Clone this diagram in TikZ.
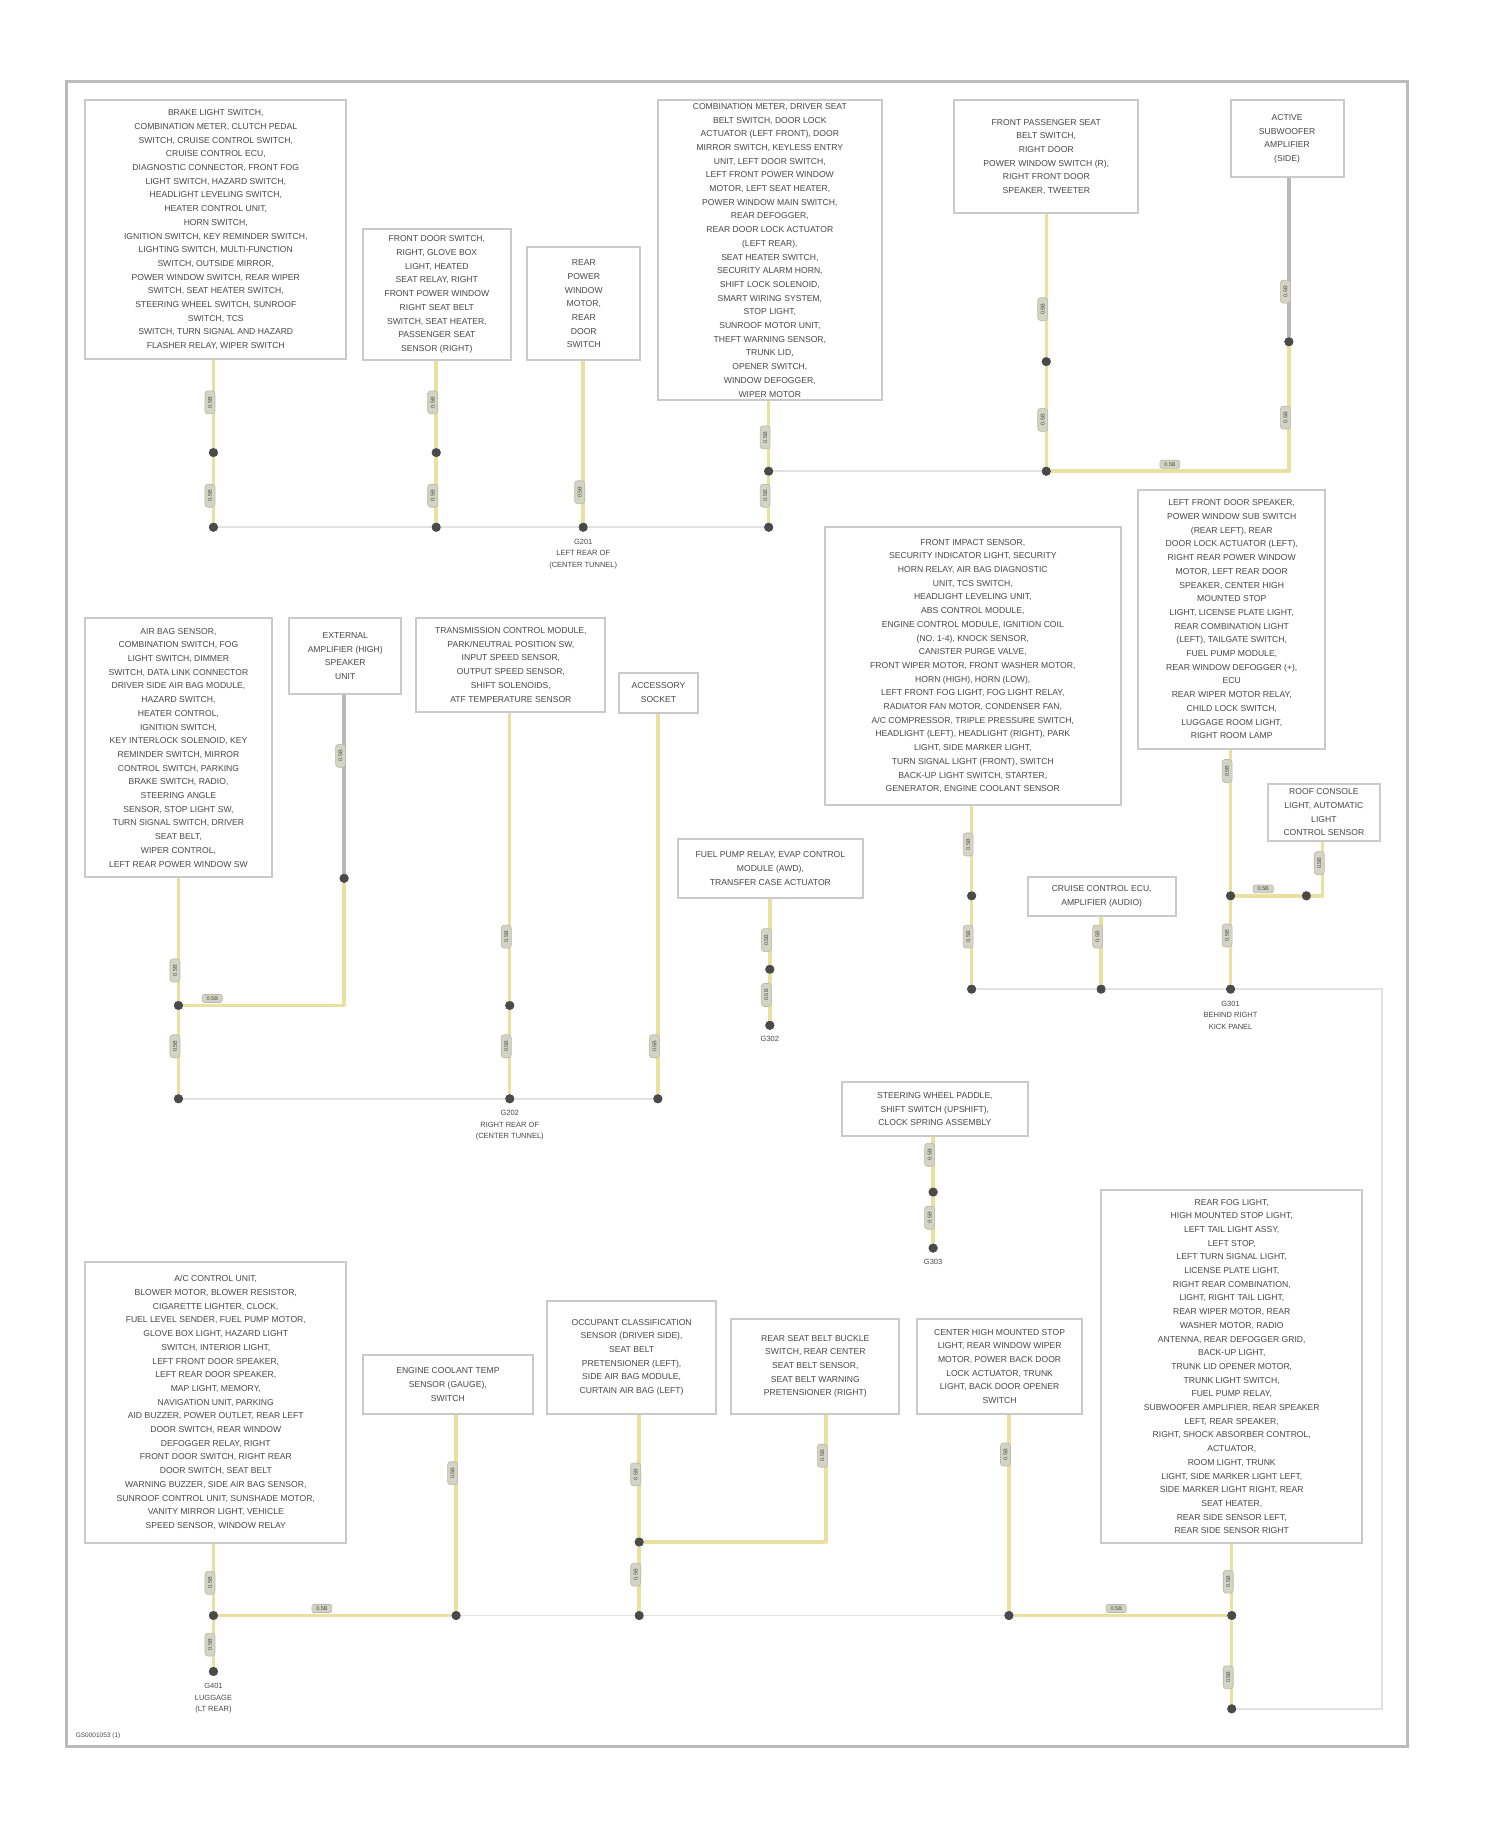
\documentclass[tikz,border=0pt]{standalone}
\usepackage{fontspec}
\setmainfont{Liberation Sans}
\definecolor{wireY}{HTML}{E8E1A0}
\definecolor{wireG}{HTML}{B8B8B8}
\definecolor{busc}{HTML}{E2E2E2}
\definecolor{boxc}{HTML}{CACACA}
\definecolor{txt}{HTML}{484848}
\definecolor{framec}{HTML}{BBBBBB}
\definecolor{chipf}{HTML}{D4D4C4}
\definecolor{chipd}{HTML}{B8B8A8}
\definecolor{dotc}{HTML}{4A4A4A}
\tikzset{
  comp/.style={draw=boxc, line width=2pt, fill=white, inner sep=0pt, align=center, text=txt,
    font=\fontsize{8.6}{13.7}\selectfont},
  bx/.style n args={2}{minimum width=#1*1.1664pt, minimum height=#2*1.1664pt},
  wire/.style={draw=wireY, line width=3.5pt, line join=round},
  gwire/.style={draw=wireG, line width=3.5pt},
  busline/.style={draw=busc, line width=1.6pt},
  spl/.style={circle, fill=dotc, minimum size=9pt, inner sep=0pt},
  wl/.style={rotate=90, fill=chipf, draw=chipd, line width=0.6pt, rounded corners=3pt,
    minimum width=23pt, minimum height=10pt, inner sep=0.5pt, text=txt, font=\fontsize{5.5}{5.5}\selectfont},
  hl/.style={fill=chipf, draw=chipd, line width=0.6pt, rounded corners=2pt,
    minimum width=20pt, minimum height=8pt, inner sep=0.5pt, text=txt, font=\fontsize{5.5}{5.5}\selectfont},
  gtxt/.style={align=center, text=txt, inner sep=0pt, anchor=north, font=\fontsize{7.5}{11.5}\selectfont},
}
\begin{document}
\begin{tikzpicture}[x=1.1664pt, y=-1.1664pt]
\useasboundingbox (0,0) rectangle (1286,1567.2);
\draw[draw=framec, line width=3.2pt] (57,70) rectangle (1207,1497);
\node[text=txt, font=\fontsize{6.5}{7}\selectfont, anchor=west] (ref) at (62,1488) {GS0001053 (1)};

% ---------- row 1 boxes ----------
\node[comp, bx={224}{222}] (B1) at (185,197) {BRAKE LIGHT SWITCH,\\COMBINATION METER, CLUTCH PEDAL\\SWITCH, CRUISE CONTROL SWITCH,\\CRUISE CONTROL ECU,\\DIAGNOSTIC CONNECTOR, FRONT FOG\\LIGHT SWITCH, HAZARD SWITCH,\\HEADLIGHT LEVELING SWITCH,\\HEATER CONTROL UNIT,\\HORN SWITCH,\\IGNITION SWITCH, KEY REMINDER SWITCH,\\LIGHTING SWITCH, MULTI-FUNCTION\\SWITCH, OUTSIDE MIRROR,\\POWER WINDOW SWITCH, REAR WIPER\\SWITCH, SEAT HEATER SWITCH,\\STEERING WHEEL SWITCH, SUNROOF\\SWITCH, TCS\\SWITCH, TURN SIGNAL AND HAZARD\\FLASHER RELAY, WIPER SWITCH};
\node[comp, bx={127}{113}] (B2) at (374.5,252.5) {FRONT DOOR SWITCH,\\RIGHT, GLOVE BOX\\LIGHT, HEATED\\SEAT RELAY, RIGHT\\FRONT POWER WINDOW\\RIGHT SEAT BELT\\SWITCH, SEAT HEATER,\\PASSENGER SEAT\\SENSOR (RIGHT)};
\node[comp, bx={97}{97}] (B3) at (500.5,260.5) {REAR\\POWER\\WINDOW\\MOTOR,\\REAR\\DOOR\\SWITCH};
\node[comp, bx={192}{257}] (B4) at (660,214.5) {COMBINATION METER, DRIVER SEAT\\BELT SWITCH, DOOR LOCK\\ACTUATOR (LEFT FRONT), DOOR\\MIRROR SWITCH, KEYLESS ENTRY\\UNIT, LEFT DOOR SWITCH,\\LEFT FRONT POWER WINDOW\\MOTOR, LEFT SEAT HEATER,\\POWER WINDOW MAIN SWITCH,\\REAR DEFOGGER,\\REAR DOOR LOCK ACTUATOR\\(LEFT REAR),\\SEAT HEATER SWITCH,\\SECURITY ALARM HORN,\\SHIFT LOCK SOLENOID,\\SMART WIRING SYSTEM,\\STOP LIGHT,\\SUNROOF MOTOR UNIT,\\THEFT WARNING SENSOR,\\TRUNK LID,\\OPENER SWITCH,\\WINDOW DEFOGGER,\\WIPER MOTOR};
\node[comp, bx={158}{97}] (B5) at (897,134.5) {FRONT PASSENGER SEAT\\BELT SWITCH,\\RIGHT DOOR\\POWER WINDOW SWITCH (R),\\RIGHT FRONT DOOR\\SPEAKER, TWEETER};
\node[comp, bx={97}{66}] (B6) at (1103.5,119) {ACTIVE\\SUBWOOFER\\AMPLIFIER\\(SIDE)};

% ---------- row 2 boxes ----------
\node[comp, bx={254}{238}] (C1) at (834,571) {FRONT IMPACT SENSOR,\\SECURITY INDICATOR LIGHT, SECURITY\\HORN RELAY, AIR BAG DIAGNOSTIC\\UNIT, TCS SWITCH,\\HEADLIGHT LEVELING UNIT,\\ABS CONTROL MODULE,\\ENGINE CONTROL MODULE, IGNITION COIL\\(NO. 1-4), KNOCK SENSOR,\\CANISTER PURGE VALVE,\\FRONT WIPER MOTOR, FRONT WASHER MOTOR,\\HORN (HIGH), HORN (LOW),\\LEFT FRONT FOG LIGHT, FOG LIGHT RELAY,\\RADIATOR FAN MOTOR, CONDENSER FAN,\\A/C COMPRESSOR, TRIPLE PRESSURE SWITCH,\\HEADLIGHT (LEFT), HEADLIGHT (RIGHT), PARK\\LIGHT, SIDE MARKER LIGHT,\\TURN SIGNAL LIGHT (FRONT), SWITCH\\BACK-UP LIGHT SWITCH, STARTER,\\GENERATOR, ENGINE COOLANT SENSOR};
\node[comp, bx={160}{222}] (C2) at (1056,531) {LEFT FRONT DOOR SPEAKER,\\POWER WINDOW SUB SWITCH\\(REAR LEFT), REAR\\DOOR LOCK ACTUATOR (LEFT),\\RIGHT REAR POWER WINDOW\\MOTOR, LEFT REAR DOOR\\SPEAKER, CENTER HIGH\\MOUNTED STOP\\LIGHT, LICENSE PLATE LIGHT,\\REAR COMBINATION LIGHT\\(LEFT), TAILGATE SWITCH,\\FUEL PUMP MODULE,\\REAR WINDOW DEFOGGER (+),\\ECU\\REAR WIPER MOTOR RELAY,\\CHILD LOCK SWITCH,\\LUGGAGE ROOM LIGHT,\\RIGHT ROOM LAMP};
\node[comp, bx={96}{49}] (C3) at (1135,696.5) {ROOF CONSOLE\\LIGHT, AUTOMATIC\\LIGHT\\CONTROL SENSOR};
\node[comp, bx={127}{33}] (C4) at (944.5,768.5) {CRUISE CONTROL ECU,\\AMPLIFIER (AUDIO)};
\node[comp, bx={159}{51}] (C5) at (660.5,744.5) {FUEL PUMP RELAY, EVAP CONTROL\\MODULE (AWD),\\TRANSFER CASE ACTUATOR};
\node[comp, bx={160}{222}] (D1) at (153,641) {AIR BAG SENSOR,\\COMBINATION SWITCH, FOG\\LIGHT SWITCH, DIMMER\\SWITCH, DATA LINK CONNECTOR\\DRIVER SIDE AIR BAG MODULE,\\HAZARD SWITCH,\\HEATER CONTROL,\\IGNITION SWITCH,\\KEY INTERLOCK SOLENOID, KEY\\REMINDER SWITCH, MIRROR\\CONTROL SWITCH, PARKING\\BRAKE SWITCH, RADIO,\\STEERING ANGLE\\SENSOR, STOP LIGHT SW,\\TURN SIGNAL SWITCH, DRIVER\\SEAT BELT,\\WIPER CONTROL,\\LEFT REAR POWER WINDOW SW};
\node[comp, bx={96}{65}] (D2) at (296,562.5) {EXTERNAL\\AMPLIFIER (HIGH)\\SPEAKER\\UNIT};
\node[comp, bx={162}{80}] (D3) at (438,570) {TRANSMISSION CONTROL MODULE,\\PARK/NEUTRAL POSITION SW,\\INPUT SPEED SENSOR,\\OUTPUT SPEED SENSOR,\\SHIFT SOLENOIDS,\\ATF TEMPERATURE SENSOR};
\node[comp, bx={67}{34}] (D4) at (564.5,594) {ACCESSORY\\SOCKET};

% ---------- row 3 boxes ----------
\node[comp, bx={159}{46}] (E1) at (801.5,951) {STEERING WHEEL PADDLE,\\SHIFT SWITCH (UPSHIFT),\\CLOCK SPRING ASSEMBLY};
\node[comp, bx={224}{241}] (F1) at (185,1202.5) {A/C CONTROL UNIT,\\BLOWER MOTOR, BLOWER RESISTOR,\\CIGARETTE LIGHTER, CLOCK,\\FUEL LEVEL SENDER, FUEL PUMP MOTOR,\\GLOVE BOX LIGHT, HAZARD LIGHT\\SWITCH, INTERIOR LIGHT,\\LEFT FRONT DOOR SPEAKER,\\LEFT REAR DOOR SPEAKER,\\MAP LIGHT, MEMORY,\\NAVIGATION UNIT, PARKING\\AID BUZZER, POWER OUTLET, REAR LEFT\\DOOR SWITCH, REAR WINDOW\\DEFOGGER RELAY, RIGHT\\FRONT DOOR SWITCH, RIGHT REAR\\DOOR SWITCH, SEAT BELT\\WARNING BUZZER, SIDE AIR BAG SENSOR,\\SUNROOF CONTROL UNIT, SUNSHADE MOTOR,\\VANITY MIRROR LIGHT, VEHICLE\\SPEED SENSOR, WINDOW RELAY};
\node[comp, bx={146}{50}] (F2) at (384,1187) {ENGINE COOLANT TEMP\\SENSOR (GAUGE),\\SWITCH};
\node[comp, bx={145}{97}] (F3) at (541.5,1163.5) {OCCUPANT CLASSIFICATION\\SENSOR (DRIVER SIDE),\\SEAT BELT\\PRETENSIONER (LEFT),\\SIDE AIR BAG MODULE,\\CURTAIN AIR BAG (LEFT)};
\node[comp, bx={144}{81}] (F4) at (699,1171.5) {REAR SEAT BELT BUCKLE\\SWITCH, REAR CENTER\\SEAT BELT SENSOR,\\SEAT BELT WARNING\\PRETENSIONER (RIGHT)};
\node[comp, bx={142}{81}] (F5) at (857,1171.5) {CENTER HIGH MOUNTED STOP\\LIGHT, REAR WINDOW WIPER\\MOTOR, POWER BACK DOOR\\LOCK ACTUATOR, TRUNK\\LIGHT, BACK DOOR OPENER\\SWITCH};
\node[comp, bx={224}{303}] (F6) at (1056,1171.5) {REAR FOG LIGHT,\\HIGH MOUNTED STOP LIGHT,\\LEFT TAIL LIGHT ASSY,\\LEFT STOP,\\LEFT TURN SIGNAL LIGHT,\\LICENSE PLATE LIGHT,\\RIGHT REAR COMBINATION,\\LIGHT, RIGHT TAIL LIGHT,\\REAR WIPER MOTOR, REAR\\WASHER MOTOR, RADIO\\ANTENNA, REAR DEFOGGER GRID,\\BACK-UP LIGHT,\\TRUNK LID OPENER MOTOR,\\TRUNK LIGHT SWITCH,\\FUEL PUMP RELAY,\\SUBWOOFER AMPLIFIER, REAR SPEAKER\\LEFT, REAR SPEAKER,\\RIGHT, SHOCK ABSORBER CONTROL,\\ACTUATOR,\\ROOM LIGHT, TRUNK\\LIGHT, SIDE MARKER LIGHT LEFT,\\SIDE MARKER LIGHT RIGHT, REAR\\SEAT HEATER,\\REAR SIDE SENSOR LEFT,\\REAR SIDE SENSOR RIGHT};

% ---------- splices and grounds ----------
\node[spl] (d1a) at (183,388) {};  \node[spl] (g1) at (183,452) {};
\node[spl] (d2a) at (374,388) {};  \node[spl] (g2) at (374,452) {};
\node[spl] (g3) at (500,452) {};
\node[spl] (d4a) at (659,404) {};  \node[spl] (g4) at (659,452) {};
\node[spl] (d5a) at (897,310) {};  \node[spl] (j5) at (897,404) {};
\node[spl] (d6a) at (1105,293) {}; \coordinate (c6) at (1105,404);

\node[spl] (dC1) at (833,768) {};  \node[spl] (gC1) at (833,848) {};
\node[spl] (gC4) at (944,848) {};
\node[spl] (jC2) at (1055,768) {}; \node[spl] (gC2) at (1055,848) {};
\node[spl] (dC3) at (1120,768) {}; \coordinate (cC3) at (1134,768);
\node[spl] (dC5) at (660,831) {};  \node[spl] (gC5) at (660,879) {};
\coordinate (cR1) at (1185,848); \coordinate (cR2) at (1185,1465);

\node[spl] (jD1) at (153,862) {};  \node[spl] (gD1) at (153,942) {};
\node[spl] (dD2) at (295,753) {};  \coordinate (cD2) at (295,862);
\node[spl] (dD3) at (437,862) {};  \node[spl] (gD3) at (437,942) {};
\node[spl] (gD4) at (564,942) {};

\node[spl] (dE1) at (800,1022) {}; \node[spl] (gE1) at (800,1070) {};
\node[spl] (jF1) at (183,1385) {}; \node[spl] (gF1) at (183,1433) {};
\node[spl] (dF2) at (391,1385) {};
\node[spl] (jF3) at (548,1322) {}; \node[spl] (dF3) at (548,1385) {};
\coordinate (cF4) at (708,1322);
\node[spl] (jF5) at (865,1385) {};
\node[spl] (jF6) at (1056,1385) {}; \node[spl] (gF6) at (1056,1465) {};

% ---------- ground bus lines ----------
\draw[busline] (g1) -- (g4);
\draw[busline] (d4a) -- (j5);
\draw[busline] (gC1) -- (gC2) -- (cR1) -- (cR2) -- (gF6);
\draw[busline] (gD1) -- (gD4);
\draw[busline] (dF2) -- (jF5);

% ---------- wires ----------
\draw[wire] (B1.south -| g1) -- (g1);
\draw[wire] (B2.south -| g2) -- (g2);
\draw[wire] (B3.south -| g3) -- (g3);
\draw[wire] (B4.south -| g4) -- (g4);
\draw[wire] (B5.south -| j5) -- (j5) -- (c6) -- (d6a);
\draw[gwire] (B6.south -| d6a) -- (d6a);

\draw[wire] (C1.south -| gC1) -- (gC1);
\draw[wire] (C4.south -| gC4) -- (gC4);
\draw[wire] (C2.south -| gC2) -- (gC2);
\draw[wire] (jC2) -- (cC3) -- (C3.south -| cC3);
\draw[wire] (C5.south -| gC5) -- (gC5);

\draw[wire] (D1.south -| gD1) -- (gD1);
\draw[wire] (jD1) -- (cD2) -- (dD2);
\draw[gwire] (D2.south -| dD2) -- (dD2);
\draw[wire] (D3.south -| gD3) -- (gD3);
\draw[wire] (D4.south -| gD4) -- (gD4);

\draw[wire] (E1.south -| gE1) -- (gE1);
\draw[wire] (F1.south -| gF1) -- (gF1);
\draw[wire] (jF1) -- (dF2) -- (F2.south -| dF2);
\draw[wire] (F3.south -| dF3) -- (dF3);
\draw[wire] (jF3) -- (cF4) -- (F4.south -| cF4);
\draw[wire] (F5.south -| jF5) -- (jF5) -- (jF6);
\draw[wire] (F6.south -| gF6) -- (gF6);

% redraw splices over wires
\foreach \n in {d1a,g1,d2a,g2,g3,d4a,g4,d5a,j5,d6a,dC1,gC1,gC4,jC2,gC2,dC3,dC5,gC5,jD1,gD1,dD2,dD3,gD3,gD4,dE1,gE1,jF1,gF1,dF2,jF3,dF3,jF5,jF6,gF6}
  \fill[dotc] (\n) circle (4.5pt);

% ---------- wire labels ----------
\node[wl] (l1a) at (180,345) {0.5B}; \node[wl] (l1b) at (180,425) {0.5B};
\node[wl] (l2a) at (371,345) {0.5B}; \node[wl] (l2b) at (371,425) {0.5B};
\node[wl] (l3a) at (497,422) {0.5B};
\node[wl] (l4a) at (656,375) {0.5B}; \node[wl] (l4b) at (656,425) {0.5B};
\node[wl] (l5a) at (894,265) {0.5B}; \node[wl] (l5b) at (894,360) {0.5B};
\node[wl] (l6a) at (1102,250) {0.5B}; \node[wl] (l6b) at (1102,358) {0.5B};
\node[hl] (h5) at (1003,398) {0.5B};

\node[wl] (lC1a) at (830,724) {0.5B}; \node[wl] (lC1b) at (830,803) {0.5B};
\node[wl] (lC4a) at (941,803) {0.5B};
\node[wl] (lC2a) at (1052,661) {0.5B}; \node[wl] (lC2b) at (1052,802) {0.5B};
\node[wl] (lC3a) at (1131,740) {0.5B};
\node[hl] (hC3) at (1083,762) {0.5B};
\node[wl] (lC5a) at (657,806) {0.5B}; \node[wl] (lC5b) at (657,853) {0.5B};

\node[wl] (lD1a) at (150,832) {0.5B}; \node[wl] (lD1b) at (150,897) {0.5B};
\node[wl] (lD2a) at (292,648) {0.5B};
\node[hl] (hD2) at (182,856) {0.5B};
\node[wl] (lD3a) at (434,803) {0.5B}; \node[wl] (lD3b) at (434,897) {0.5B};
\node[wl] (lD4a) at (561,897) {0.5B};

\node[wl] (lE1a) at (797,990) {0.5B}; \node[wl] (lE1b) at (797,1044) {0.5B};
\node[wl] (lF1a) at (180,1357) {0.5B}; \node[wl] (lF1b) at (180,1410) {0.5B};
\node[hl] (hF1) at (276,1379) {0.5B};
\node[wl] (lF2a) at (388,1263) {0.5B};
\node[wl] (lF3a) at (545,1264) {0.5B}; \node[wl] (lF3b) at (545,1350) {0.5B};
\node[wl] (lF4a) at (705,1248) {0.5B};
\node[wl] (lF5a) at (862,1247) {0.5B};
\node[hl] (hF5) at (957,1379) {0.5B};
\node[wl] (lF6a) at (1053,1356) {0.5B}; \node[wl] (lF6b) at (1053,1438) {0.5B};

% ---------- ground labels ----------
\node[gtxt] (t3) at (500,462) {G201\\LEFT REAR OF\\(CENTER TUNNEL)};
\node[gtxt] (tC2) at (1055,858) {G301\\BEHIND RIGHT\\KICK PANEL};
\node[gtxt] (tC5) at (660,888) {G302};
\node[gtxt] (tD3) at (437,952) {G202\\RIGHT REAR OF\\(CENTER TUNNEL)};
\node[gtxt] (tE1) at (800,1079) {G303};
\node[gtxt] (tF1) at (183,1443) {G401\\LUGGAGE\\(LT REAR)};
\end{tikzpicture}
\end{document}
